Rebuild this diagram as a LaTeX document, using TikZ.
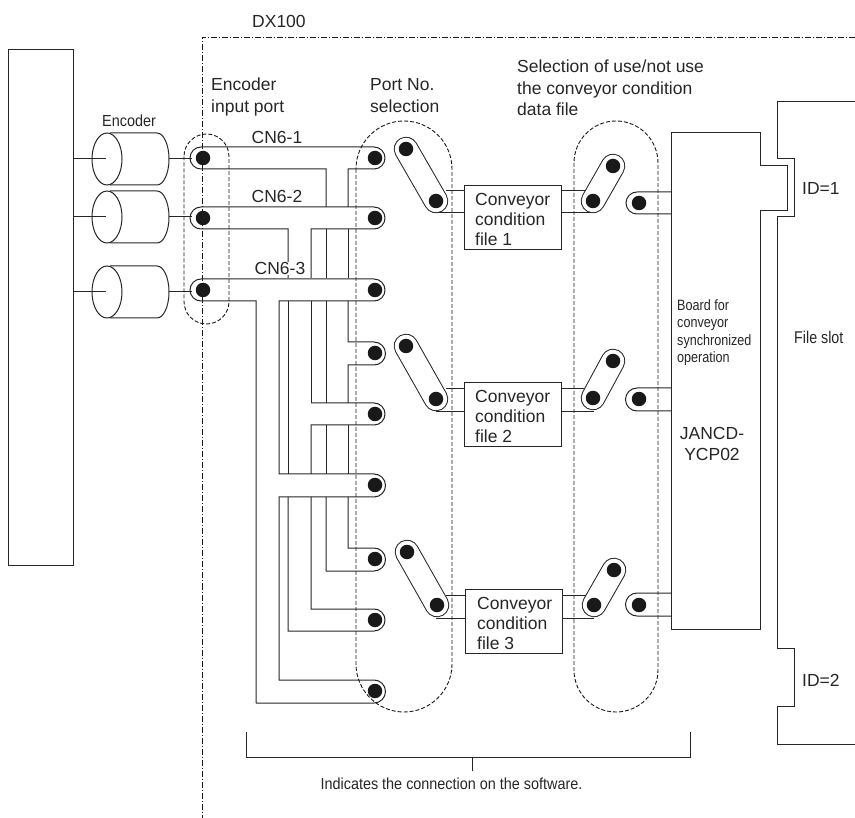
\documentclass[tikz,border=0pt]{standalone}
\usepackage{fontspec}
\setmainfont{Liberation Sans}
\tikzset{
  wire/.style={draw=black!85,line width=1pt,line join=miter},
  region/.style={draw=black!90,line width=0.9pt,dash pattern=on 4pt off 2pt},
  bound/.style={draw=black!90,line width=0.9pt,dash pattern=on 6pt off 2pt on 1pt off 2pt},
  dot/.style={circle,fill=black!90,draw=none,minimum size=14.5pt,inner sep=0pt},
  lab/.style={font=\fontsize{17.5}{22}\selectfont,text=black!85,inner sep=0pt,align=left,anchor=west},
  filebox/.style={wire,fill=white,anchor=north west,minimum width=97pt,minimum height=64pt,inner sep=0pt},
  filetext/.style={lab,anchor=north west,font=\fontsize{17.5}{20}\selectfont}
}
\newcommand{\swcap}[4]{%
  \draw[black!85,line width=24.5pt,line cap=round] (#1,#2)--(#3,#4);
  \draw[white,line width=22.5pt,line cap=round] (#1,#2)--(#3,#4);
  \node[dot] at (#1,#2) {};
  \node[dot] at (#3,#4) {};}
\newcommand{\cyl}[2]{%
  \draw[wire] (107,#1) ellipse[x radius=15,y radius=26];
  \draw[wire] (110,#1-26) -- (157,#1-26) arc[start angle=-90,end angle=90,x radius=12,y radius=26] -- (110,#1+26);
  \draw[wire] (73,#1) -- (106,#1);
  \draw[wire] (169,#1) -- (#2,#1);}
\begin{document}
\begin{tikzpicture}[x=1pt,y=-1pt]
\useasboundingbox (0,0) rectangle (855,818);
% host box
\draw[wire] (8.5,50) rectangle (73,565);
% boundary
\draw[bound] (855,37.5) -- (202,37.5) -- (202,818);
% encoders
\cyl{159}{192}
\cyl{217}{192}
\cyl{292}{192}
% wires
\draw[wire] (326,207) -- (326,169) -- (201,169) arc[start angle=90,end angle=270,radius=11] -- (374,147) arc[start angle=-90,end angle=90,radius=11] -- (348,169) -- (348,207);
\draw[wire] (288,278) -- (288,229) -- (201,229) arc[start angle=90,end angle=270,radius=11] -- (374,207) arc[start angle=-90,end angle=90,radius=11] -- (311,229) -- (311,278);
\draw[wire] (326,229) -- (326,278);
\draw[wire] (348,229) -- (348,278);
\draw[wire] (256,703) -- (256,301) -- (201,301) arc[start angle=90,end angle=270,radius=11] -- (374,279) arc[start angle=-90,end angle=90,radius=11] -- (279,301) -- (279,474) -- (374,474) arc[start angle=-90,end angle=90,radius=11.5] -- (279,497) -- (279,680) -- (374,680) arc[start angle=-90,end angle=90,radius=11.5] -- (256,703);
\draw[wire] (288,301) -- (288,474);
\draw[wire] (326,301) -- (326,403);
\draw[wire] (311,301) -- (311,403);
\draw[wire] (348,301) -- (348,342) -- (374,342) arc[start angle=-90,end angle=90,radius=11.5] -- (348,365) -- (348,403);
\draw[wire] (311,403) -- (374,403) arc[start angle=-90,end angle=90,radius=11] -- (311,425) -- (311,474);
\draw[wire] (326,425) -- (326,474);
\draw[wire] (348,425) -- (348,474);
\draw[wire] (348,497) -- (348,548) -- (374,548) arc[start angle=-90,end angle=90,radius=11.5] -- (326,571) -- (326,497);
\draw[wire] (311,497) -- (311,609) -- (374,609) arc[start angle=-90,end angle=90,radius=11] -- (288,631) -- (288,497);
% port dots
\node[dot] (in1) at (203,158) {};
\node[dot] (in2) at (203,218) {};
\node[dot] (in3) at (203,290) {};
\foreach \n/\y in {a/158,b/218,c/290,d/353,e/414,f/485,g/559,h/620,i/691}{
  \node[dot] (sel\n) at (375,\y) {};
}
% stubs
\foreach \yt/\yb/\xl/\xb in {191/213/464/561,389/412/464/561,595/618/465/562}{
  \draw[wire] (446,\yt) -- (\xl,\yt);
  \draw[wire] (436,\yb) -- (\xl,\yb);
  \draw[wire] (\xb,\yt) -- (587,\yt);
  \draw[wire] (\xb,\yb) -- (594,\yb);
}
% output ports
\foreach \t/\b/\c/\r in {192/214/203/11,388/411/399/11.5,593/616/605/11.5}{
  \draw[wire] (671,\t) -- (637,\t) arc[start angle=-90,end angle=-270,radius=\r] -- (671,\b);
  \node[dot] at (639,\c) {};
}
% switches
\swcap{406}{149}{436}{201}
\swcap{406}{346}{436}{399}
\swcap{407}{552}{437}{605}
\swcap{613}{166}{593}{201}
\swcap{613}{361}{593}{398}
\swcap{614}{570}{594}{605}
% file boxes
\node[filebox] (f1) at (464,185) {};
\node[filebox] (f2) at (464,382) {};
\node[filebox] (f3) at (465,589) {};
\node[filetext] (t1) at (475,193) {Conveyor\\condition\\file 1};
\node[filetext] (t2) at (475,390) {Conveyor\\condition\\file 2};
\node[filetext] (t3) at (477,597) {Conveyor\\condition\\file 3};
% board
\draw[wire] (671,133) -- (760,133) -- (760,166) -- (787,166) -- (787,211) -- (760,211) -- (760,629) -- (671,629) -- cycle;
% slot
\draw[wire] (855,102) -- (777,102) -- (777,159) -- (794,159) -- (794,217) -- (777,217) -- (777,648) -- (794,648) -- (794,706) -- (777,706) -- (777,744) -- (855,744);
% dashed regions
\draw[region,rounded corners=22.5pt] (184,134) rectangle (229,324);
\draw[region,rounded corners=48pt] (356,121) rectangle (452,712);
\draw[region,rounded corners=42pt] (574,121) rectangle (658,712);
% bracket
\draw[wire] (246,732) -- (246,757) -- (690,757) -- (690,732);
\draw[wire] (472,757) -- (472,770.5);
% labels
\node[lab] (dx) at (252,21) {DX100};
\node[lab,anchor=north west] (eip) at (211,78) {Encoder\\input port};
\node[lab,anchor=north west] (pns) at (370,78) {Port No.\\selection};
\node[lab,anchor=north west,font=\fontsize{17.5}{21.5}\selectfont] (sel) at (517,60) {Selection of use/not use\\the conveyor condition\\data file};
\node[lab,font=\fontsize{16}{16}\selectfont] (enc) at (102,121) {\scalebox{0.9}[1]{Encoder}};
\node[lab,anchor=center] (cn1) at (277,137) {CN6-1};
\node[lab,anchor=center] (cn2) at (277,196) {CN6-2};
\node[lab,anchor=center,fill=white,inner xsep=1pt,inner ysep=0.5pt] (cn3) at (280,268.5) {CN6-3};
\node[lab,anchor=north west,font=\fontsize{15}{17.3}\selectfont] (brd) at (677,299.5) {\scalebox{0.84}[1]{Board for}\\\scalebox{0.84}[1]{conveyor}\\\scalebox{0.84}[1]{synchronized}\\\scalebox{0.84}[1]{operation}};
\node[lab,anchor=north,align=center,font=\fontsize{17.5}{21}\selectfont] (jan) at (712,427) {JANCD-\\YCP02};
\node[lab,anchor=west,font=\fontsize{17}{17}\selectfont] (fs) at (794,337) {\scalebox{0.84}[1]{File slot}};
\node[lab] (id1) at (802,188) {ID=1};
\node[lab] (id2) at (802,680) {ID=2};
\node[lab,anchor=center,font=\fontsize{16}{16}\selectfont] (ind) at (451.5,784) {\scalebox{0.9}[1]{Indicates the connection on the software.}};
\end{tikzpicture}
\end{document}
